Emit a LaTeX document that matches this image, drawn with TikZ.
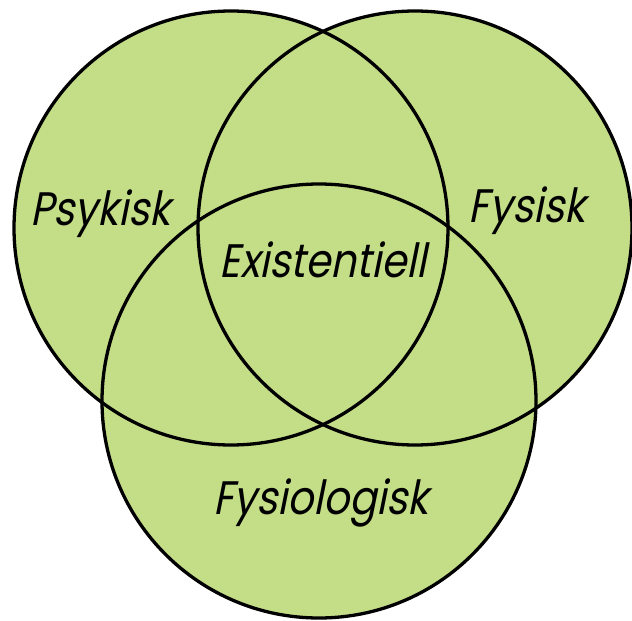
\documentclass[tikz,border=0pt]{standalone}
\usepackage{fontspec}
\newfontfamily\labelfont[FakeSlant=0.2,FakeStretch=0.86]{Poppins}
\definecolor{vennfill}{RGB}{196,221,135}
\tikzset{
  setfill/.style={fill=vennfill},
  setline/.style={draw=black,line width=3.3pt},
  setlabel/.style={font=\labelfont\fontsize{47}{47}\selectfont,anchor=base,inner sep=0pt}
}
\begin{document}
\begin{tikzpicture}[x=1pt,y=-1pt]
  \useasboundingbox (0,0) rectangle (632,621);
  % centres of the three sets
  \coordinate (cP) at (231,228);
  \coordinate (cF) at (415,228);
  \coordinate (cB) at (319,401);
  % fills first, so every outline stays visible
  \fill[setfill] (cP) circle (217pt);
  \fill[setfill] (cF) circle (217pt);
  \fill[setfill] (cB) circle (217pt);
  % outlines
  \draw[setline] (cP) circle (217pt);
  \draw[setline] (cF) circle (217pt);
  \draw[setline] (cB) circle (217pt);
  % labels
  \node[setlabel] (psykisk) at (100,225) {Psykisk};
  \node[setlabel] (fysisk) at (527,222) {Fysisk};
  \node[setlabel] (existentiell) at (323,277) {Existentiell};
  \node[setlabel] (fysiologisk) at (321,514) {Fysiologisk};
\end{tikzpicture}
\end{document}
